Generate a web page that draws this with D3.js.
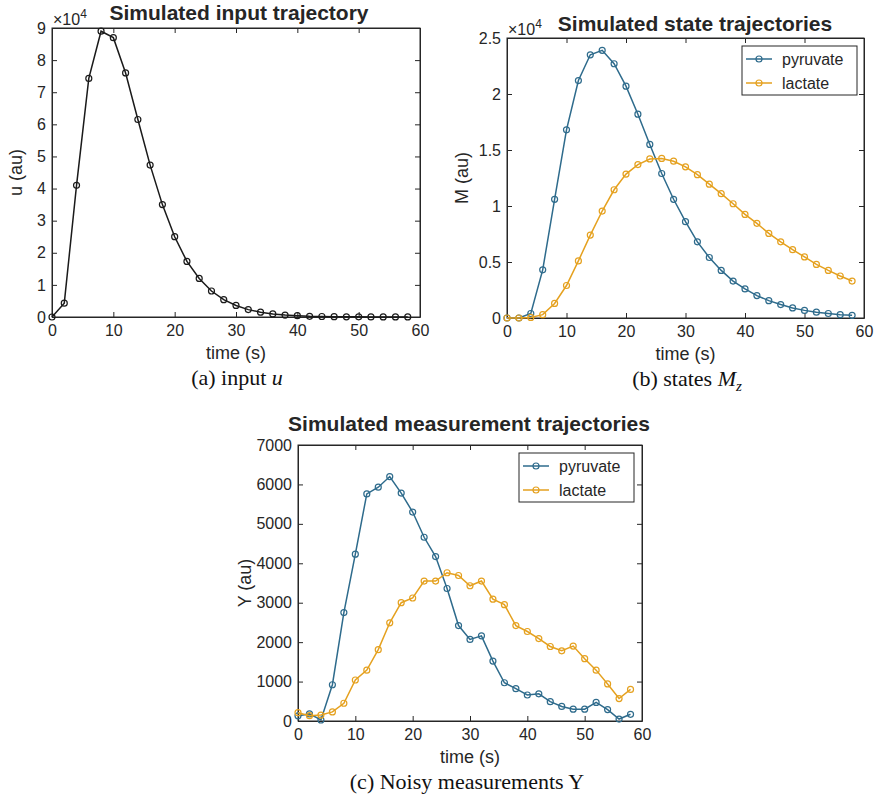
<!DOCTYPE html>
<html>
<head>
<meta charset="utf-8">
<script src="https://cdn.jsdelivr.net/npm/d3@7"></script>
<style>
body { margin: 0; background: #fff; }
text { font-family: "Liberation Sans", Arial, Helvetica, sans-serif; fill: #262626; }
.cap { font-family: "Liberation Serif", "Times New Roman", serif; fill: #111; }
</style>
</head>
<body>
<script>
// sample times (s)
var time = [0, 2, 4, 6, 8, 10, 12, 14, 16, 18, 20, 22, 24, 26, 28, 30,
            32, 34, 36, 38, 40, 42, 44, 46, 48, 50, 52, 54, 56, 58];

// (a) simulated input u
var inputU = [0, 4300, 41000, 74300, 89000, 87000, 76000, 61500, 47300, 35000,
              25000, 17300, 12000, 8100, 5400, 3600, 2300, 1500, 950, 600,
              400, 220, 150, 100, 60, 40, 30, 20, 15, 10];

// (b) simulated states Mz
var statePyruvate = [0, 0, 400, 4300, 10600, 16800, 21200, 23500, 23900, 22700,
                     20700, 18200, 15500, 12900, 10600, 8600, 6800, 5400, 4250, 3300,
                     2600, 2000, 1550, 1200, 900, 680, 520, 400, 300, 240];
var stateLactate = [0, 0, 50, 300, 1300, 2900, 5100, 7400, 9550, 11450,
                    12850, 13700, 14200, 14250, 14000, 13500, 12800, 11950, 11100, 10200,
                    9250, 8450, 7550, 6800, 6100, 5450, 4780, 4250, 3750, 3300];

// (c) noisy measurements Y
var measPyruvate = [130, 180, 25, 920, 2750, 4230, 5760, 5930, 6200, 5780,
                    5300, 4660, 4170, 3360, 2420, 2070, 2160, 1520, 970, 820,
                    660, 690, 490, 370, 300, 300, 470, 290, 50, 170];
var measLactate = [210, 135, 150, 230, 450, 1040, 1290, 1810, 2490, 3000,
                   3120, 3550, 3550, 3760, 3690, 3430, 3550, 3090, 2950, 2420,
                   2270, 2090, 1890, 1780, 1900, 1580, 1290, 940, 570, 800];

var seriesNames = ["pyruvate", "lactate"];
var xTicks = [0, 10, 20, 30, 40, 50, 60];
var yTicksA = [0, 10000, 20000, 30000, 40000, 50000, 60000, 70000, 80000, 90000];
var yTicksB = [0, 5000, 10000, 15000, 20000, 25000];
var yTicksC = [0, 1000, 2000, 3000, 4000, 5000, 6000, 7000];

var BLUE = "#2e6b8c", ORANGE = "#e5a11f";

var svg = d3.select("body").append("svg")
    .attr("width", 880)
    .attr("height", 798);

function panel(p) {
  var x = d3.scaleLinear().domain([0, 60]).range([p.left, p.right]);
  var y = d3.scaleLinear().domain([0, p.yMax]).range([p.bottom, p.top]);
  var g = svg.append("g");

  // inward ticks on all four sides (matlab box look)
  g.append("g")
    .attr("transform", "translate(0," + p.bottom + ")")
    .call(d3.axisBottom(x).tickValues(xTicks).tickSize(-5).tickSizeOuter(0).tickPadding(8));
  g.append("g")
    .attr("transform", "translate(0," + p.top + ")")
    .call(d3.axisTop(x).tickValues(xTicks).tickSize(-5).tickSizeOuter(0).tickFormat(""));
  g.append("g")
    .attr("transform", "translate(" + p.left + ",0)")
    .call(d3.axisLeft(y).tickValues(p.yTicks).tickSize(-5).tickSizeOuter(0).tickPadding(6).tickFormat(p.yFmt));
  g.append("g")
    .attr("transform", "translate(" + p.right + ",0)")
    .call(d3.axisRight(y).tickValues(p.yTicks).tickSize(-5).tickSizeOuter(0).tickFormat(""));

  g.selectAll(".domain").attr("stroke", "#262626");
  g.selectAll(".tick line").attr("stroke", "#262626");
  g.selectAll(".tick text").attr("font-size", 16).attr("fill", "#262626")
    .attr("font-family", "Liberation Sans, Arial, sans-serif");

  g.append("rect")
    .attr("x", p.left).attr("y", p.top)
    .attr("width", p.right - p.left).attr("height", p.bottom - p.top)
    .attr("fill", "none").attr("stroke", "#262626");

  var line = d3.line().x(function(d, i) { return x(time[i]); }).y(function(d) { return y(d); });

  p.series.forEach(function(s) {
    g.append("path").datum(s.values)
      .attr("d", line)
      .attr("fill", "none")
      .attr("stroke", s.color)
      .attr("stroke-width", 1.5);
    g.selectAll(null).data(s.values).enter().append("circle")
      .attr("cx", function(d, i) { return x(time[i]); })
      .attr("cy", function(d) { return y(d); })
      .attr("r", 3)
      .attr("fill", "none")
      .attr("stroke", s.color)
      .attr("stroke-width", 1.2);
  });

  g.append("text")
    .attr("x", p.titleX).attr("y", p.titleY)
    .attr("text-anchor", "middle")
    .attr("font-size", 21).attr("font-weight", "bold")
    .attr("fill", "#111")
    .text(p.title);

  g.append("text")
    .attr("x", (p.left + p.right) / 2).attr("y", p.bottom + 42)
    .attr("text-anchor", "middle")
    .attr("font-size", 18)
    .text("time (s)");

  g.append("text")
    .attr("transform", "translate(" + p.ylabelX + "," + (p.top + p.bottom) / 2 + ") rotate(-90)")
    .attr("text-anchor", "middle")
    .attr("font-size", 18)
    .text(p.ylabel);

  if (p.exponent) {
    var ex = g.append("text")
      .attr("x", p.left + 1).attr("y", p.top - 3)
      .attr("font-size", 16);
    ex.append("tspan").text("\u00d710");
    ex.append("tspan").attr("dy", -7).attr("font-size", 12).text("4");
  }

  if (p.legend) {
    var lg = g.append("g").attr("transform", "translate(" + p.legend[0] + "," + p.legend[1] + ")");
    lg.append("rect")
      .attr("width", 115).attr("height", 49)
      .attr("fill", "#fff").attr("stroke", "#262626");
    p.series.forEach(function(s, i) {
      var yy = 13 + i * 24;
      lg.append("line")
        .attr("x1", 4).attr("x2", 30).attr("y1", yy).attr("y2", yy)
        .attr("stroke", s.color).attr("stroke-width", 1.5);
      lg.append("circle")
        .attr("cx", 17).attr("cy", yy).attr("r", 3)
        .attr("fill", "none").attr("stroke", s.color).attr("stroke-width", 1.2);
      lg.append("text")
        .attr("x", 40).attr("y", yy + 6)
        .attr("font-size", 16)
        .text(s.name);
    });
  }
  return g;
}

// (a)
panel({
  left: 52, right: 420, top: 28, bottom: 317,
  yMax: 90000, yTicks: yTicksA, yFmt: function(d) { return d / 10000; },
  series: [{ values: inputU, color: "#1a1a1a" }],
  title: "Simulated input trajectory", titleX: 239, titleY: 20,
  ylabel: "u (au)", ylabelX: 22, exponent: true
});
var capA = svg.append("text").attr("class", "cap")
  .attr("x", 237).attr("y", 385).attr("text-anchor", "middle").attr("font-size", 22);
capA.append("tspan").text("(a) input ");
capA.append("tspan").attr("font-style", "italic").text("u");

// (b)
panel({
  left: 507, right: 864, top: 38, bottom: 318,
  yMax: 25000, yTicks: yTicksB, yFmt: function(d) { return d / 10000; },
  series: [{ values: statePyruvate, color: BLUE, name: seriesNames[0] },
           { values: stateLactate, color: ORANGE, name: seriesNames[1] }],
  title: "Simulated state trajectories", titleX: 695, titleY: 31,
  ylabel: "M (au)", ylabelX: 468, exponent: true, legend: [742, 46]
});
var capB = svg.append("text").attr("class", "cap")
  .attr("x", 687).attr("y", 386).attr("text-anchor", "middle").attr("font-size", 22);
capB.append("tspan").text("(b) states ");
capB.append("tspan").attr("font-style", "italic").text("M");
capB.append("tspan").attr("font-style", "italic").attr("font-size", 15).attr("dy", 5).text("z");

// (c)
panel({
  left: 298, right: 642, top: 445, bottom: 721,
  yMax: 7000, yTicks: yTicksC, yFmt: d3.format("d"),
  series: [{ values: measPyruvate, color: BLUE, name: seriesNames[0] },
           { values: measLactate, color: ORANGE, name: seriesNames[1] }],
  title: "Simulated measurement trajectories", titleX: 469, titleY: 431,
  ylabel: "Y (au)", ylabelX: 251, legend: [519, 453]
});
svg.append("text").attr("class", "cap")
  .attr("x", 467).attr("y", 789).attr("text-anchor", "middle").attr("font-size", 22)
  .text("(c) Noisy measurements Y");
</script>
</body>
</html>
